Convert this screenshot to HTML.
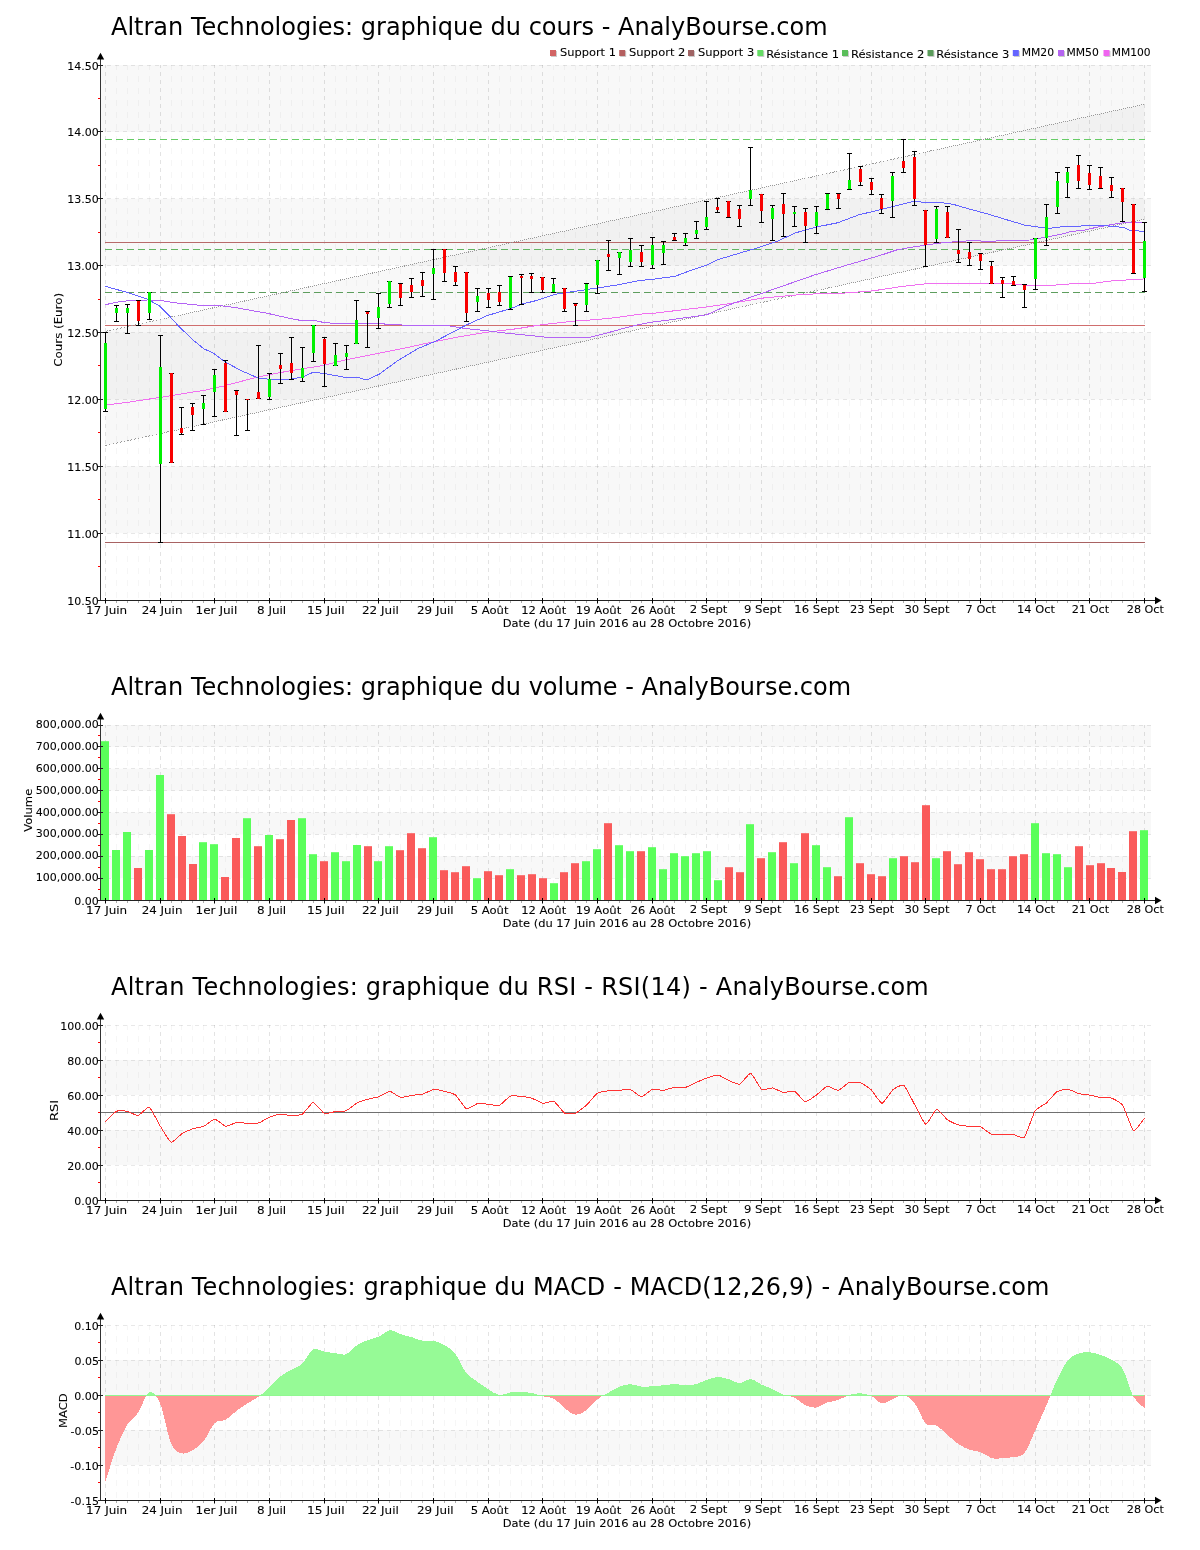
<!DOCTYPE html><html><head><meta charset="utf-8"><style>html,body{margin:0;padding:0;background:#fff;width:1200px;height:1550px;overflow:hidden}svg{display:block} text{filter:grayscale(1)}.s{font-family:"DejaVu Sans","Liberation Sans",sans-serif;font-size:11px;fill:#000;stroke:#000;stroke-width:0.08px}.t{font-family:"DejaVu Sans","Liberation Sans",sans-serif;font-size:24px;fill:#000}.l{font-family:"DejaVu Sans","Liberation Sans",sans-serif;font-size:10px;fill:#000}</style></head><body>
<svg width="1200" height="1550" viewBox="0 0 1200 1550">
<rect width="1200" height="1550" fill="#fff"/>
<rect x="101" y="65" width="1050" height="66.88" fill="#f8f8f8"/>
<rect x="101" y="198.75" width="1050" height="66.88" fill="#f8f8f8"/>
<rect x="101" y="332.5" width="1050" height="66.88" fill="#f8f8f8"/>
<rect x="101" y="466.25" width="1050" height="66.88" fill="#f8f8f8"/>
<polygon points="105.5,331.4 1144.5,104.2 1144.5,219.1 105.5,445.5" fill="#000" fill-opacity="0.028"/>
<path d="M116.5 65V600M127.5 65V600M138.5 65V600M149.5 65V600M171.5 65V600M181.5 65V600M192.5 65V600M203.5 65V600M225.5 65V600M236.5 65V600M247.5 65V600M258.5 65V600M280.5 65V600M291.5 65V600M302.5 65V600M313.5 65V600M335.5 65V600M346.5 65V600M356.5 65V600M367.5 65V600M389.5 65V600M400.5 65V600M411.5 65V600M422.5 65V600M444.5 65V600M455.5 65V600M466.5 65V600M477.5 65V600M499.5 65V600M510.5 65V600M521.5 65V600M531.5 65V600M553.5 65V600M564.5 65V600M575.5 65V600M586.5 65V600M608.5 65V600M619.5 65V600M630.5 65V600M641.5 65V600M663.5 65V600M674.5 65V600M685.5 65V600M696.5 65V600M717.5 65V600M728.5 65V600M739.5 65V600M750.5 65V600M772.5 65V600M783.5 65V600M794.5 65V600M805.5 65V600M827.5 65V600M838.5 65V600M849.5 65V600M860.5 65V600M881.5 65V600M892.5 65V600M903.5 65V600M914.5 65V600M936.5 65V600M947.5 65V600M958.5 65V600M969.5 65V600M991.5 65V600M1002.5 65V600M1013.5 65V600M1024.5 65V600M1046.5 65V600M1057.5 65V600M1067.5 65V600M1078.5 65V600M1100.5 65V600M1111.5 65V600M1122.5 65V600M1133.5 65V600" stroke="#000" stroke-opacity="0.035" stroke-width="1" stroke-dasharray="6,6" stroke-dashoffset="1" fill="none"/>
<path d="M105.5 65V600M160.5 65V600M214.5 65V600M269.5 65V600M324.5 65V600M378.5 65V600M433.5 65V600M488.5 65V600M542.5 65V600M597.5 65V600M652.5 65V600M706.5 65V600M761.5 65V600M816.5 65V600M871.5 65V600M925.5 65V600M980.5 65V600M1035.5 65V600M1089.5 65V600M1144.5 65V600" stroke="#000" stroke-opacity="0.11" stroke-width="1" stroke-dasharray="4,4" stroke-dashoffset="1" fill="none"/>
<path d="M101 65.5H1151M101 131.5H1151M101 198.5H1151M101 265.5H1151M101 332.5H1151M101 399.5H1151M101 466.5H1151M101 533.5H1151M101 600.5H1151" stroke="#000" stroke-opacity="0.09" stroke-width="1" stroke-dasharray="4,4" stroke-dashoffset="2" fill="none"/>
<path d="M105 139.5H1145" stroke="#6c6" stroke-width="1" stroke-dasharray="7,4" fill="none"/>
<path d="M105 249.5H1145" stroke="#62b462" stroke-width="1" stroke-dasharray="7,4" fill="none"/>
<path d="M105 292.5H1145" stroke="#5e9e5e" stroke-width="1" stroke-dasharray="7,4" fill="none"/>
<path d="M105 242.5H1145" stroke="#b86a6a" stroke-width="1" fill="none"/>
<path d="M105 325.5H1145" stroke="#d06e6e" stroke-width="1" fill="none"/>
<path d="M105 542.5H1145" stroke="#a86262" stroke-width="1" fill="none"/>
<path d="M105.5 331.4L1144.5 104.2" stroke="#9a9a9a" stroke-width="1" stroke-dasharray="1,1.05" fill="none" shape-rendering="crispEdges"/>
<path d="M105.5 445.5L1144.5 219.1" stroke="#9a9a9a" stroke-width="1" stroke-dasharray="1,1.05" fill="none" shape-rendering="crispEdges"/>
<polyline points="105.5,405.1 129.8,402 164.7,396.7 185.6,393.2 205,390.2 223.6,386 256.6,377.3 277.3,373.1 298,369.5 323.8,365.4 346,359.8 377,353.6 408,347.4 425,343.6 456,337.4 487,332.2 518,328.6 536.5,325.5 555.7,323.1 576.3,321 597,319.5 617.6,317.4 638.3,314.3 655,313.1 707,306.9 727.5,303.9 762.5,298.1 803.3,294.3 844,293.1 873.2,290.8 902.4,286.4 925.7,283.8 975,283.1 1007.9,283.7 1029.8,285.3 1051.8,285.3 1073.7,283.7 1094.1,283.2 1112.6,280.8 1144.5,278.9" stroke="#f070f0" stroke-width="1" fill="none" shape-rendering="crispEdges"/>
<polyline points="105.5,304.7 115.9,302.3 126.4,300.9 147.3,300 161.2,300.6 173.4,302.6 199.5,305.3 218.4,305.5 236,307.6 246.3,309.6 267,313.2 287.6,317.9 301,320.5 314.5,320.5 324.3,322.6 340.8,323.7 383.2,323.7 387.3,324.7 425,325.5 449.8,326 466.3,328.6 487,330.7 507.6,333.3 528.3,335.3 548.4,337.5 588.7,337.5 607.3,332.9 628,327.2 643.4,323.6 655,321.7 669.2,320 707,314.7 727.5,305.4 762.5,293.1 815,274.8 844,266 879,255.8 896.6,250 906.3,248.1 924.9,245.2 937.3,243.4 952.8,241.9 975,240.4 986,241.5 1007.9,240.4 1029.8,240 1046.3,237.1 1062.7,233.8 1070,231.8 1084.7,230 1098.4,226.9 1119.6,223.3 1129.6,222.2 1144.5,222.2" stroke="#b464f5" stroke-width="1" fill="none" shape-rendering="crispEdges"/>
<polyline points="105.5,286.4 126.4,292.2 147.3,299.2 159.5,305.8 170,316.6 178.6,326.2 194.3,341 203.9,348.8 213.3,353 225.7,362.3 241.1,370.6 257.7,377.8 269,379.3 285.6,379.8 302.1,377.3 313.4,372.1 325.3,373.7 345,377.4 359.4,377.9 366.6,380 379,374.3 397.6,360.8 418.3,348.4 435,341.5 466.3,325 487,315.7 510.7,308.5 523.1,303.8 535,300.9 555.7,294.2 576.3,291.1 597,288 617.6,284.9 638.3,280.7 655,279 675,276.3 691.5,270.1 707,265 717.3,259.8 738,253.6 755,248.6 775.7,241.9 796.3,232.6 817,226.9 837.6,222.8 858.3,215 880.5,209.6 896,205.7 914.6,201.1 921.8,202.1 941.4,202.6 952.8,204.2 968.3,208.8 986,213.5 1007.9,220.1 1024.4,225 1035.3,226.7 1049.6,228.3 1062.7,226.7 1095.5,225.5 1112.6,226.2 1123.9,227.6 1129.6,230.4 1144.5,231.4" stroke="#6464ff" stroke-width="1" fill="none" shape-rendering="crispEdges"/>
<path d="M105.5 332V412M103 332.5H108M103 411.5H108" stroke="#000" stroke-width="1" fill="none"/>
<rect x="104" y="343" width="3" height="66" fill="#00f000"/>
<path d="M116.5 305V322M114 305.5H119M114 321.5H119" stroke="#000" stroke-width="1" fill="none"/>
<rect x="115" y="308" width="3" height="5" fill="#00f000"/>
<path d="M127.5 304V334M125 304.5H130M125 333.5H130" stroke="#000" stroke-width="1" fill="none"/>
<rect x="126" y="308" width="3" height="5" fill="#00f000"/>
<path d="M138.5 300V326M136 300.5H141M136 325.5H141" stroke="#000" stroke-width="1" fill="none"/>
<rect x="137" y="301" width="3" height="20" fill="#f80000"/>
<path d="M149.5 292V320M147 292.5H152M147 319.5H152" stroke="#000" stroke-width="1" fill="none"/>
<rect x="148" y="292" width="3" height="21" fill="#00f000"/>
<path d="M160.5 335V543M158 335.5H163M158 542.5H163" stroke="#000" stroke-width="1" fill="none"/>
<rect x="159" y="367" width="3" height="97" fill="#00f000"/>
<path d="M171.5 373V463M169 373.5H174M169 462.5H174" stroke="#000" stroke-width="1" fill="none"/>
<rect x="170" y="373" width="3" height="90" fill="#f80000"/>
<path d="M181.5 407V435M179 407.5H184M179 434.5H184" stroke="#000" stroke-width="1" fill="none"/>
<rect x="180" y="428" width="3" height="5" fill="#f80000"/>
<path d="M192.5 403V431M190 403.5H195M190 430.5H195" stroke="#000" stroke-width="1" fill="none"/>
<rect x="191" y="407" width="3" height="8" fill="#f80000"/>
<path d="M203.5 395V425M201 395.5H206M201 424.5H206" stroke="#000" stroke-width="1" fill="none"/>
<rect x="202" y="403" width="3" height="6" fill="#00f000"/>
<path d="M214.5 369V417M212 369.5H217M212 416.5H217" stroke="#000" stroke-width="1" fill="none"/>
<rect x="213" y="375" width="3" height="17" fill="#00f000"/>
<path d="M225.5 360V412M223 360.5H228M223 411.5H228" stroke="#000" stroke-width="1" fill="none"/>
<rect x="224" y="363" width="3" height="49" fill="#f80000"/>
<path d="M236.5 390V436M234 390.5H239M234 435.5H239" stroke="#000" stroke-width="1" fill="none"/>
<rect x="235" y="391" width="3" height="4" fill="#f80000"/>
<path d="M247.5 399V431M245 399.5H250M245 430.5H250" stroke="#000" stroke-width="1" fill="none"/>
<rect x="246" y="399" width="3" height="1" fill="#f80000"/>
<path d="M258.5 345V399M256 345.5H261M256 398.5H261" stroke="#000" stroke-width="1" fill="none"/>
<rect x="257" y="392" width="3" height="7" fill="#f80000"/>
<path d="M269.5 373V400M267 373.5H272M267 399.5H272" stroke="#000" stroke-width="1" fill="none"/>
<rect x="268" y="379" width="3" height="18" fill="#00f000"/>
<path d="M280.5 353V384M278 353.5H283M278 383.5H283" stroke="#000" stroke-width="1" fill="none"/>
<rect x="279" y="365" width="3" height="4" fill="#f80000"/>
<path d="M291.5 337V380M289 337.5H294M289 379.5H294" stroke="#000" stroke-width="1" fill="none"/>
<rect x="290" y="363" width="3" height="10" fill="#f80000"/>
<path d="M302.5 347V382M300 347.5H305M300 381.5H305" stroke="#000" stroke-width="1" fill="none"/>
<rect x="301" y="368" width="3" height="10" fill="#00f000"/>
<path d="M313.5 325V362M311 325.5H316M311 361.5H316" stroke="#000" stroke-width="1" fill="none"/>
<rect x="312" y="325" width="3" height="28" fill="#00f000"/>
<path d="M324.5 337V387M322 337.5H327M322 386.5H327" stroke="#000" stroke-width="1" fill="none"/>
<rect x="323" y="339" width="3" height="25" fill="#f80000"/>
<path d="M335.5 343V366M333 343.5H338M333 365.5H338" stroke="#000" stroke-width="1" fill="none"/>
<rect x="334" y="355" width="3" height="11" fill="#00f000"/>
<path d="M346.5 345V370M344 345.5H349M344 369.5H349" stroke="#000" stroke-width="1" fill="none"/>
<rect x="345" y="353" width="3" height="4" fill="#00f000"/>
<path d="M356.5 300V344M354 300.5H359M354 343.5H359" stroke="#000" stroke-width="1" fill="none"/>
<rect x="355" y="320" width="3" height="24" fill="#00f000"/>
<path d="M367.5 311V348M365 311.5H370M365 347.5H370" stroke="#000" stroke-width="1" fill="none"/>
<rect x="366" y="312" width="3" height="2" fill="#f80000"/>
<path d="M378.5 293V329M376 293.5H381M376 328.5H381" stroke="#000" stroke-width="1" fill="none"/>
<rect x="377" y="307" width="3" height="11" fill="#00f000"/>
<path d="M389.5 281V308M387 281.5H392M387 307.5H392" stroke="#000" stroke-width="1" fill="none"/>
<rect x="388" y="281" width="3" height="23" fill="#00f000"/>
<path d="M400.5 283V306M398 283.5H403M398 305.5H403" stroke="#000" stroke-width="1" fill="none"/>
<rect x="399" y="284" width="3" height="14" fill="#f80000"/>
<path d="M411.5 278V298M409 278.5H414M409 297.5H414" stroke="#000" stroke-width="1" fill="none"/>
<rect x="410" y="285" width="3" height="7" fill="#f80000"/>
<path d="M422.5 272V297M420 272.5H425M420 296.5H425" stroke="#000" stroke-width="1" fill="none"/>
<rect x="421" y="280" width="3" height="6" fill="#f80000"/>
<path d="M433.5 249V300M431 249.5H436M431 299.5H436" stroke="#000" stroke-width="1" fill="none"/>
<rect x="432" y="268" width="3" height="6" fill="#00f000"/>
<path d="M444.5 249V282M442 249.5H447M442 281.5H447" stroke="#000" stroke-width="1" fill="none"/>
<rect x="443" y="249" width="3" height="24" fill="#f80000"/>
<path d="M455.5 266V286M453 266.5H458M453 285.5H458" stroke="#000" stroke-width="1" fill="none"/>
<rect x="454" y="272" width="3" height="10" fill="#f80000"/>
<path d="M466.5 272V322M464 272.5H469M464 321.5H469" stroke="#000" stroke-width="1" fill="none"/>
<rect x="465" y="272" width="3" height="41" fill="#f80000"/>
<path d="M477.5 288V312M475 288.5H480M475 311.5H480" stroke="#000" stroke-width="1" fill="none"/>
<rect x="476" y="296" width="3" height="6" fill="#00f000"/>
<path d="M488.5 288V308M486 288.5H491M486 307.5H491" stroke="#000" stroke-width="1" fill="none"/>
<rect x="487" y="293" width="3" height="7" fill="#f80000"/>
<path d="M499.5 285V306M497 285.5H502M497 305.5H502" stroke="#000" stroke-width="1" fill="none"/>
<rect x="498" y="292" width="3" height="10" fill="#f80000"/>
<path d="M510.5 276V310M508 276.5H513M508 309.5H513" stroke="#000" stroke-width="1" fill="none"/>
<rect x="509" y="277" width="3" height="31" fill="#00f000"/>
<path d="M521.5 274V305M519 274.5H524M519 304.5H524" stroke="#000" stroke-width="1" fill="none"/>
<rect x="520" y="276" width="3" height="2" fill="#f80000"/>
<path d="M531.5 273V293M529 273.5H534M529 292.5H534" stroke="#000" stroke-width="1" fill="none"/>
<rect x="530" y="276" width="3" height="3" fill="#f80000"/>
<path d="M542.5 277V293M540 277.5H545M540 292.5H545" stroke="#000" stroke-width="1" fill="none"/>
<rect x="541" y="277" width="3" height="13" fill="#f80000"/>
<path d="M553.5 278V293M551 278.5H556M551 292.5H556" stroke="#000" stroke-width="1" fill="none"/>
<rect x="552" y="284" width="3" height="8" fill="#00f000"/>
<path d="M564.5 288V312M562 288.5H567M562 311.5H567" stroke="#000" stroke-width="1" fill="none"/>
<rect x="563" y="288" width="3" height="21" fill="#f80000"/>
<path d="M575.5 303V326M573 303.5H578M573 325.5H578" stroke="#000" stroke-width="1" fill="none"/>
<rect x="574" y="304" width="3" height="2" fill="#f80000"/>
<path d="M586.5 283V312M584 283.5H589M584 311.5H589" stroke="#000" stroke-width="1" fill="none"/>
<rect x="585" y="284" width="3" height="21" fill="#00f000"/>
<path d="M597.5 260V294M595 260.5H600M595 293.5H600" stroke="#000" stroke-width="1" fill="none"/>
<rect x="596" y="260" width="3" height="25" fill="#00f000"/>
<path d="M608.5 240V271M606 240.5H611M606 270.5H611" stroke="#000" stroke-width="1" fill="none"/>
<rect x="607" y="254" width="3" height="3" fill="#f80000"/>
<path d="M619.5 252V275M617 252.5H622M617 274.5H622" stroke="#000" stroke-width="1" fill="none"/>
<rect x="618" y="252" width="3" height="6" fill="#00f000"/>
<path d="M630.5 238V267M628 238.5H633M628 266.5H633" stroke="#000" stroke-width="1" fill="none"/>
<rect x="629" y="250" width="3" height="12" fill="#00f000"/>
<path d="M641.5 245V267M639 245.5H644M639 266.5H644" stroke="#000" stroke-width="1" fill="none"/>
<rect x="640" y="252" width="3" height="10" fill="#f80000"/>
<path d="M652.5 237V269M650 237.5H655M650 268.5H655" stroke="#000" stroke-width="1" fill="none"/>
<rect x="651" y="245" width="3" height="20" fill="#00f000"/>
<path d="M663.5 241V265M661 241.5H666M661 264.5H666" stroke="#000" stroke-width="1" fill="none"/>
<rect x="662" y="245" width="3" height="8" fill="#00f000"/>
<path d="M674.5 233V241M672 233.5H677M672 240.5H677" stroke="#000" stroke-width="1" fill="none"/>
<rect x="673" y="237" width="3" height="3" fill="#f80000"/>
<path d="M685.5 233V246M683 233.5H688M683 245.5H688" stroke="#000" stroke-width="1" fill="none"/>
<rect x="684" y="238" width="3" height="5" fill="#00f000"/>
<path d="M696.5 221V239M694 221.5H699M694 238.5H699" stroke="#000" stroke-width="1" fill="none"/>
<rect x="695" y="230" width="3" height="4" fill="#00f000"/>
<path d="M706.5 201V230M704 201.5H709M704 229.5H709" stroke="#000" stroke-width="1" fill="none"/>
<rect x="705" y="217" width="3" height="10" fill="#00f000"/>
<path d="M717.5 198V213M715 198.5H720M715 212.5H720" stroke="#000" stroke-width="1" fill="none"/>
<rect x="716" y="207" width="3" height="3" fill="#f80000"/>
<path d="M728.5 201V218M726 201.5H731M726 217.5H731" stroke="#000" stroke-width="1" fill="none"/>
<rect x="727" y="201" width="3" height="16" fill="#f80000"/>
<path d="M739.5 205V227M737 205.5H742M737 226.5H742" stroke="#000" stroke-width="1" fill="none"/>
<rect x="738" y="209" width="3" height="10" fill="#f80000"/>
<path d="M750.5 147V206M748 147.5H753M748 205.5H753" stroke="#000" stroke-width="1" fill="none"/>
<rect x="749" y="190" width="3" height="9" fill="#00f000"/>
<path d="M761.5 194V223M759 194.5H764M759 222.5H764" stroke="#000" stroke-width="1" fill="none"/>
<rect x="760" y="194" width="3" height="17" fill="#f80000"/>
<path d="M772.5 205V241M770 205.5H775M770 240.5H775" stroke="#000" stroke-width="1" fill="none"/>
<rect x="771" y="208" width="3" height="11" fill="#00f000"/>
<path d="M783.5 193V237M781 193.5H786M781 236.5H786" stroke="#000" stroke-width="1" fill="none"/>
<rect x="782" y="204" width="3" height="10" fill="#f80000"/>
<path d="M794.5 206V227M792 206.5H797M792 226.5H797" stroke="#000" stroke-width="1" fill="none"/>
<rect x="793" y="212" width="3" height="2" fill="#00f000"/>
<path d="M805.5 208V243M803 208.5H808M803 242.5H808" stroke="#000" stroke-width="1" fill="none"/>
<rect x="804" y="212" width="3" height="14" fill="#f80000"/>
<path d="M816.5 206V234M814 206.5H819M814 233.5H819" stroke="#000" stroke-width="1" fill="none"/>
<rect x="815" y="212" width="3" height="14" fill="#00f000"/>
<path d="M827.5 193V210M825 193.5H830M825 209.5H830" stroke="#000" stroke-width="1" fill="none"/>
<rect x="826" y="194" width="3" height="15" fill="#00f000"/>
<path d="M838.5 193V209M836 193.5H841M836 208.5H841" stroke="#000" stroke-width="1" fill="none"/>
<rect x="837" y="194" width="3" height="5" fill="#f80000"/>
<path d="M849.5 153V190M847 153.5H852M847 189.5H852" stroke="#000" stroke-width="1" fill="none"/>
<rect x="848" y="180" width="3" height="9" fill="#00f000"/>
<path d="M860.5 166V186M858 166.5H863M858 185.5H863" stroke="#000" stroke-width="1" fill="none"/>
<rect x="859" y="169" width="3" height="13" fill="#f80000"/>
<path d="M871.5 178V195M869 178.5H874M869 194.5H874" stroke="#000" stroke-width="1" fill="none"/>
<rect x="870" y="182" width="3" height="8" fill="#f80000"/>
<path d="M881.5 194V214M879 194.5H884M879 213.5H884" stroke="#000" stroke-width="1" fill="none"/>
<rect x="880" y="198" width="3" height="11" fill="#f80000"/>
<path d="M892.5 172V218M890 172.5H895M890 217.5H895" stroke="#000" stroke-width="1" fill="none"/>
<rect x="891" y="176" width="3" height="25" fill="#00f000"/>
<path d="M903.5 139V173M901 139.5H906M901 172.5H906" stroke="#000" stroke-width="1" fill="none"/>
<rect x="902" y="161" width="3" height="7" fill="#f80000"/>
<path d="M914.5 151V206M912 151.5H917M912 205.5H917" stroke="#000" stroke-width="1" fill="none"/>
<rect x="913" y="157" width="3" height="42" fill="#f80000"/>
<path d="M925.5 210V267M923 210.5H928M923 266.5H928" stroke="#000" stroke-width="1" fill="none"/>
<rect x="924" y="210" width="3" height="35" fill="#f80000"/>
<path d="M936.5 206V243M934 206.5H939M934 242.5H939" stroke="#000" stroke-width="1" fill="none"/>
<rect x="935" y="209" width="3" height="30" fill="#00f000"/>
<path d="M947.5 206V238M945 206.5H950M945 237.5H950" stroke="#000" stroke-width="1" fill="none"/>
<rect x="946" y="212" width="3" height="26" fill="#f80000"/>
<path d="M958.5 229V263M956 229.5H961M956 262.5H961" stroke="#000" stroke-width="1" fill="none"/>
<rect x="957" y="250" width="3" height="4" fill="#f80000"/>
<path d="M969.5 242V266M967 242.5H972M967 265.5H972" stroke="#000" stroke-width="1" fill="none"/>
<rect x="968" y="252" width="3" height="7" fill="#f80000"/>
<path d="M980.5 253V270M978 253.5H983M978 269.5H983" stroke="#000" stroke-width="1" fill="none"/>
<rect x="979" y="254" width="3" height="7" fill="#f80000"/>
<path d="M991.5 261V284M989 261.5H994M989 283.5H994" stroke="#000" stroke-width="1" fill="none"/>
<rect x="990" y="266" width="3" height="18" fill="#f80000"/>
<path d="M1002.5 277V298M1000 277.5H1005M1000 297.5H1005" stroke="#000" stroke-width="1" fill="none"/>
<rect x="1001" y="280" width="3" height="4" fill="#f80000"/>
<path d="M1013.5 276V286M1011 276.5H1016M1011 285.5H1016" stroke="#000" stroke-width="1" fill="none"/>
<rect x="1012" y="281" width="3" height="4" fill="#f80000"/>
<path d="M1024.5 284V308M1022 284.5H1027M1022 307.5H1027" stroke="#000" stroke-width="1" fill="none"/>
<rect x="1023" y="285" width="3" height="5" fill="#f80000"/>
<path d="M1035.5 238V290M1033 238.5H1038M1033 289.5H1038" stroke="#000" stroke-width="1" fill="none"/>
<rect x="1034" y="238" width="3" height="41" fill="#00f000"/>
<path d="M1046.5 204V246M1044 204.5H1049M1044 245.5H1049" stroke="#000" stroke-width="1" fill="none"/>
<rect x="1045" y="217" width="3" height="21" fill="#00f000"/>
<path d="M1057.5 172V214M1055 172.5H1060M1055 213.5H1060" stroke="#000" stroke-width="1" fill="none"/>
<rect x="1056" y="181" width="3" height="26" fill="#00f000"/>
<path d="M1067.5 167V198M1065 167.5H1070M1065 197.5H1070" stroke="#000" stroke-width="1" fill="none"/>
<rect x="1066" y="172" width="3" height="11" fill="#00f000"/>
<path d="M1078.5 155V189M1076 155.5H1081M1076 188.5H1081" stroke="#000" stroke-width="1" fill="none"/>
<rect x="1077" y="165" width="3" height="16" fill="#f80000"/>
<path d="M1089.5 165V190M1087 165.5H1092M1087 189.5H1092" stroke="#000" stroke-width="1" fill="none"/>
<rect x="1088" y="173" width="3" height="12" fill="#f80000"/>
<path d="M1100.5 167V189M1098 167.5H1103M1098 188.5H1103" stroke="#000" stroke-width="1" fill="none"/>
<rect x="1099" y="176" width="3" height="12" fill="#f80000"/>
<path d="M1111.5 177V198M1109 177.5H1114M1109 197.5H1114" stroke="#000" stroke-width="1" fill="none"/>
<rect x="1110" y="185" width="3" height="6" fill="#f80000"/>
<path d="M1122.5 188V222M1120 188.5H1125M1120 221.5H1125" stroke="#000" stroke-width="1" fill="none"/>
<rect x="1121" y="188" width="3" height="14" fill="#f80000"/>
<path d="M1133.5 204V274M1131 204.5H1136M1131 273.5H1136" stroke="#000" stroke-width="1" fill="none"/>
<rect x="1132" y="204" width="3" height="69" fill="#f80000"/>
<path d="M1144.5 222V292M1142 222.5H1147M1142 291.5H1147" stroke="#000" stroke-width="1" fill="none"/>
<rect x="1143" y="241" width="3" height="37" fill="#00f000"/>
<path d="M100.5 58V600.5" stroke="#333" stroke-width="1" fill="none"/>
<polygon points="96.8,59.4 104.2,59.4 100.5,52.8" fill="#000"/>
<path d="M100 600.5H1157" stroke="#222" stroke-width="1" fill="none"/>
<polygon points="1155,596.7 1155,604.3 1161.5,600.5" fill="#000"/>
<path d="M98 65.5H103M98 131.5H103M98 198.5H103M98 265.5H103M98 332.5H103M98 399.5H103M98 466.5H103M98 533.5H103M98 600.5H103" stroke="#222" stroke-width="1"/>
<path d="M98 98.5H100M98 165.5H100M98 232.5H100M98 299.5H100M98 365.5H100M98 432.5H100M98 499.5H100M98 566.5H100" stroke="#f00" stroke-width="1"/>
<path d="M105.5 598V603.5M160.5 598V603.5M214.5 598V603.5M269.5 598V603.5M324.5 598V603.5M378.5 598V603.5M433.5 598V603.5M488.5 598V603.5M542.5 598V603.5M597.5 598V603.5M652.5 598V603.5M706.5 598V603.5M761.5 598V603.5M816.5 598V603.5M871.5 598V603.5M925.5 598V603.5M980.5 598V603.5M1035.5 598V603.5M1089.5 598V603.5M1144.5 598V603.5" stroke="#000" stroke-width="1"/>
<path d="M116.5 601V603M127.5 601V603M138.5 601V603M149.5 601V603M171.5 601V603M181.5 601V603M192.5 601V603M203.5 601V603M225.5 601V603M236.5 601V603M247.5 601V603M258.5 601V603M280.5 601V603M291.5 601V603M302.5 601V603M313.5 601V603M335.5 601V603M346.5 601V603M356.5 601V603M367.5 601V603M389.5 601V603M400.5 601V603M411.5 601V603M422.5 601V603M444.5 601V603M455.5 601V603M466.5 601V603M477.5 601V603M499.5 601V603M510.5 601V603M521.5 601V603M531.5 601V603M553.5 601V603M564.5 601V603M575.5 601V603M586.5 601V603M608.5 601V603M619.5 601V603M630.5 601V603M641.5 601V603M663.5 601V603M674.5 601V603M685.5 601V603M696.5 601V603M717.5 601V603M728.5 601V603M739.5 601V603M750.5 601V603M772.5 601V603M783.5 601V603M794.5 601V603M805.5 601V603M827.5 601V603M838.5 601V603M849.5 601V603M860.5 601V603M881.5 601V603M892.5 601V603M903.5 601V603M914.5 601V603M936.5 601V603M947.5 601V603M958.5 601V603M969.5 601V603M991.5 601V603M1002.5 601V603M1013.5 601V603M1024.5 601V603M1046.5 601V603M1057.5 601V603M1067.5 601V603M1078.5 601V603M1100.5 601V603M1111.5 601V603M1122.5 601V603M1133.5 601V603" stroke="#aaa" stroke-width="1"/>
<text x="67.25" y="70" class="s">14.50</text>
<text x="67.25" y="136" class="s">14.00</text>
<text x="67.25" y="203" class="s">13.50</text>
<text x="67.25" y="270" class="s">13.00</text>
<text x="67.25" y="337" class="s">12.50</text>
<text x="67.25" y="404" class="s">12.00</text>
<text x="67.25" y="471" class="s">11.50</text>
<text x="67.25" y="538" class="s">11.00</text>
<text x="67.25" y="605" class="s">10.50</text>
<text x="86.1" y="614" class="s" textLength="41.14" lengthAdjust="spacingAndGlyphs">17 Juin</text>
<text x="141.7" y="614" class="s" textLength="40.74" lengthAdjust="spacingAndGlyphs">24 Juin</text>
<text x="195.5" y="614" class="s" textLength="41.81" lengthAdjust="spacingAndGlyphs">1er Juil</text>
<text x="256.95" y="614" class="s" textLength="29.27" lengthAdjust="spacingAndGlyphs">8 Juil</text>
<text x="307.1" y="614" class="s" textLength="37.42" lengthAdjust="spacingAndGlyphs">15 Juil</text>
<text x="362" y="614" class="s" textLength="36.82" lengthAdjust="spacingAndGlyphs">22 Juil</text>
<text x="417" y="614" class="s" textLength="36.62" lengthAdjust="spacingAndGlyphs">29 Juil</text>
<text x="470.65" y="614" class="s" textLength="37.79" lengthAdjust="spacingAndGlyphs">5 Août</text>
<text x="521.2" y="614" class="s" textLength="45.04" lengthAdjust="spacingAndGlyphs">12 Août</text>
<text x="575.8" y="614" class="s" textLength="45.44" lengthAdjust="spacingAndGlyphs">19 Août</text>
<text x="630.8" y="614" class="s" textLength="44.54" lengthAdjust="spacingAndGlyphs">26 Août</text>
<text x="689.7" y="613" class="s" textLength="37.74" lengthAdjust="spacingAndGlyphs">2 Sept</text>
<text x="743.9" y="613" class="s" textLength="37.64" lengthAdjust="spacingAndGlyphs">9 Sept</text>
<text x="794.3" y="613" class="s" textLength="44.94" lengthAdjust="spacingAndGlyphs">16 Sept</text>
<text x="850.1" y="613" class="s" textLength="44.14" lengthAdjust="spacingAndGlyphs">23 Sept</text>
<text x="904.45" y="613" class="s" textLength="45.09" lengthAdjust="spacingAndGlyphs">30 Sept</text>
<text x="965.6" y="613" class="s" textLength="30.46" lengthAdjust="spacingAndGlyphs">7 Oct</text>
<text x="1017.1" y="613" class="s" textLength="37.86" lengthAdjust="spacingAndGlyphs">14 Oct</text>
<text x="1071.8" y="613" class="s" textLength="37.26" lengthAdjust="spacingAndGlyphs">21 Oct</text>
<text x="1126.8" y="613" class="s" textLength="37.06" lengthAdjust="spacingAndGlyphs">28 Oct</text>
<text x="502.65" y="626.8" class="s" textLength="248.47" lengthAdjust="spacingAndGlyphs">Date (du 17 Juin 2016 au 28 Octobre 2016)</text>
<text x="111" y="35.3" class="t">Altran Technologies: graphique du cours - AnalyBourse.com</text>
<text transform="translate(62.1,366.7) rotate(-90)" class="s" textLength="73.75" lengthAdjust="spacingAndGlyphs">Cours (Euro)</text>
<rect x="101" y="725" width="1050" height="21.88" fill="#f8f8f8"/>
<rect x="101" y="768.75" width="1050" height="21.88" fill="#f8f8f8"/>
<rect x="101" y="812.5" width="1050" height="21.88" fill="#f8f8f8"/>
<rect x="101" y="856.25" width="1050" height="21.88" fill="#f8f8f8"/>
<path d="M116.5 725V900M127.5 725V900M138.5 725V900M149.5 725V900M171.5 725V900M181.5 725V900M192.5 725V900M203.5 725V900M225.5 725V900M236.5 725V900M247.5 725V900M258.5 725V900M280.5 725V900M291.5 725V900M302.5 725V900M313.5 725V900M335.5 725V900M346.5 725V900M356.5 725V900M367.5 725V900M389.5 725V900M400.5 725V900M411.5 725V900M422.5 725V900M444.5 725V900M455.5 725V900M466.5 725V900M477.5 725V900M499.5 725V900M510.5 725V900M521.5 725V900M531.5 725V900M553.5 725V900M564.5 725V900M575.5 725V900M586.5 725V900M608.5 725V900M619.5 725V900M630.5 725V900M641.5 725V900M663.5 725V900M674.5 725V900M685.5 725V900M696.5 725V900M717.5 725V900M728.5 725V900M739.5 725V900M750.5 725V900M772.5 725V900M783.5 725V900M794.5 725V900M805.5 725V900M827.5 725V900M838.5 725V900M849.5 725V900M860.5 725V900M881.5 725V900M892.5 725V900M903.5 725V900M914.5 725V900M936.5 725V900M947.5 725V900M958.5 725V900M969.5 725V900M991.5 725V900M1002.5 725V900M1013.5 725V900M1024.5 725V900M1046.5 725V900M1057.5 725V900M1067.5 725V900M1078.5 725V900M1100.5 725V900M1111.5 725V900M1122.5 725V900M1133.5 725V900" stroke="#000" stroke-opacity="0.035" stroke-width="1" stroke-dasharray="6,6" stroke-dashoffset="1" fill="none"/>
<path d="M105.5 725V900M160.5 725V900M214.5 725V900M269.5 725V900M324.5 725V900M378.5 725V900M433.5 725V900M488.5 725V900M542.5 725V900M597.5 725V900M652.5 725V900M706.5 725V900M761.5 725V900M816.5 725V900M871.5 725V900M925.5 725V900M980.5 725V900M1035.5 725V900M1089.5 725V900M1144.5 725V900" stroke="#000" stroke-opacity="0.11" stroke-width="1" stroke-dasharray="4,4" stroke-dashoffset="1" fill="none"/>
<path d="M101 725.5H1151M101 746.5H1151M101 768.5H1151M101 790.5H1151M101 812.5H1151M101 834.5H1151M101 856.5H1151M101 878.5H1151M101 900.5H1151" stroke="#000" stroke-opacity="0.09" stroke-width="1" stroke-dasharray="4,4" stroke-dashoffset="2" fill="none"/>
<rect x="101" y="741.2" width="8" height="158.8" fill="#5aff5a"/>
<rect x="112" y="850" width="8" height="50" fill="#5aff5a"/>
<rect x="123" y="832" width="8" height="68" fill="#5aff5a"/>
<rect x="134" y="868" width="8" height="32" fill="#fa5a5a"/>
<rect x="145" y="850" width="8" height="50" fill="#5aff5a"/>
<rect x="156" y="775" width="8" height="125" fill="#5aff5a"/>
<rect x="167" y="814.2" width="8" height="85.8" fill="#fa5a5a"/>
<rect x="178" y="836" width="8" height="64" fill="#fa5a5a"/>
<rect x="189" y="864" width="8" height="36" fill="#fa5a5a"/>
<rect x="199" y="842.2" width="8" height="57.8" fill="#5aff5a"/>
<rect x="210" y="844.2" width="8" height="55.8" fill="#5aff5a"/>
<rect x="221" y="877" width="8" height="23" fill="#fa5a5a"/>
<rect x="232" y="838" width="8" height="62" fill="#fa5a5a"/>
<rect x="243" y="818.2" width="8" height="81.8" fill="#5aff5a"/>
<rect x="254" y="846.2" width="8" height="53.8" fill="#fa5a5a"/>
<rect x="265" y="835" width="8" height="65" fill="#5aff5a"/>
<rect x="276" y="839.2" width="8" height="60.8" fill="#fa5a5a"/>
<rect x="287" y="820" width="8" height="80" fill="#fa5a5a"/>
<rect x="298" y="818.2" width="8" height="81.8" fill="#5aff5a"/>
<rect x="309" y="854.2" width="8" height="45.8" fill="#5aff5a"/>
<rect x="320" y="861.2" width="8" height="38.8" fill="#fa5a5a"/>
<rect x="331" y="852.2" width="8" height="47.8" fill="#5aff5a"/>
<rect x="342" y="861.2" width="8" height="38.8" fill="#5aff5a"/>
<rect x="353" y="845" width="8" height="55" fill="#5aff5a"/>
<rect x="364" y="846.2" width="8" height="53.8" fill="#fa5a5a"/>
<rect x="374" y="861.2" width="8" height="38.8" fill="#5aff5a"/>
<rect x="385" y="846.2" width="8" height="53.8" fill="#5aff5a"/>
<rect x="396" y="850.2" width="8" height="49.8" fill="#fa5a5a"/>
<rect x="407" y="833.2" width="8" height="66.8" fill="#fa5a5a"/>
<rect x="418" y="848.2" width="8" height="51.8" fill="#fa5a5a"/>
<rect x="429" y="837.2" width="8" height="62.8" fill="#5aff5a"/>
<rect x="440" y="870.2" width="8" height="29.8" fill="#fa5a5a"/>
<rect x="451" y="872.2" width="8" height="27.8" fill="#fa5a5a"/>
<rect x="462" y="866.2" width="8" height="33.8" fill="#fa5a5a"/>
<rect x="473" y="878.2" width="8" height="21.8" fill="#5aff5a"/>
<rect x="484" y="871.2" width="8" height="28.8" fill="#fa5a5a"/>
<rect x="495" y="875.2" width="8" height="24.8" fill="#fa5a5a"/>
<rect x="506" y="869.2" width="8" height="30.8" fill="#5aff5a"/>
<rect x="517" y="875.2" width="8" height="24.8" fill="#fa5a5a"/>
<rect x="528" y="874.2" width="8" height="25.8" fill="#fa5a5a"/>
<rect x="539" y="878.2" width="8" height="21.8" fill="#fa5a5a"/>
<rect x="550" y="883.2" width="8" height="16.8" fill="#5aff5a"/>
<rect x="560" y="872.2" width="8" height="27.8" fill="#fa5a5a"/>
<rect x="571" y="863.2" width="8" height="36.8" fill="#fa5a5a"/>
<rect x="582" y="861.2" width="8" height="38.8" fill="#5aff5a"/>
<rect x="593" y="849.2" width="8" height="50.8" fill="#5aff5a"/>
<rect x="604" y="823.2" width="8" height="76.8" fill="#fa5a5a"/>
<rect x="615" y="845.2" width="8" height="54.8" fill="#5aff5a"/>
<rect x="626" y="851.2" width="8" height="48.8" fill="#5aff5a"/>
<rect x="637" y="851.2" width="8" height="48.8" fill="#fa5a5a"/>
<rect x="648" y="847.2" width="8" height="52.8" fill="#5aff5a"/>
<rect x="659" y="869.2" width="8" height="30.8" fill="#5aff5a"/>
<rect x="670" y="853.2" width="8" height="46.8" fill="#5aff5a"/>
<rect x="681" y="856.2" width="8" height="43.8" fill="#5aff5a"/>
<rect x="692" y="853.2" width="8" height="46.8" fill="#5aff5a"/>
<rect x="703" y="851.2" width="8" height="48.8" fill="#5aff5a"/>
<rect x="714" y="880.2" width="8" height="19.8" fill="#5aff5a"/>
<rect x="725" y="867.2" width="8" height="32.8" fill="#fa5a5a"/>
<rect x="736" y="872.2" width="8" height="27.8" fill="#fa5a5a"/>
<rect x="746" y="824.2" width="8" height="75.8" fill="#5aff5a"/>
<rect x="757" y="858.2" width="8" height="41.8" fill="#fa5a5a"/>
<rect x="768" y="852.2" width="8" height="47.8" fill="#5aff5a"/>
<rect x="779" y="842.2" width="8" height="57.8" fill="#fa5a5a"/>
<rect x="790" y="863.2" width="8" height="36.8" fill="#5aff5a"/>
<rect x="801" y="833.2" width="8" height="66.8" fill="#fa5a5a"/>
<rect x="812" y="845.2" width="8" height="54.8" fill="#5aff5a"/>
<rect x="823" y="867.2" width="8" height="32.8" fill="#5aff5a"/>
<rect x="834" y="876.2" width="8" height="23.8" fill="#fa5a5a"/>
<rect x="845" y="817.2" width="8" height="82.8" fill="#5aff5a"/>
<rect x="856" y="863.2" width="8" height="36.8" fill="#fa5a5a"/>
<rect x="867" y="874.2" width="8" height="25.8" fill="#fa5a5a"/>
<rect x="878" y="876.2" width="8" height="23.8" fill="#fa5a5a"/>
<rect x="889" y="858.2" width="8" height="41.8" fill="#5aff5a"/>
<rect x="900" y="856.2" width="8" height="43.8" fill="#fa5a5a"/>
<rect x="911" y="862.2" width="8" height="37.8" fill="#fa5a5a"/>
<rect x="922" y="805.2" width="8" height="94.8" fill="#fa5a5a"/>
<rect x="932" y="858.2" width="8" height="41.8" fill="#5aff5a"/>
<rect x="943" y="851.2" width="8" height="48.8" fill="#fa5a5a"/>
<rect x="954" y="864.2" width="8" height="35.8" fill="#fa5a5a"/>
<rect x="965" y="852.2" width="8" height="47.8" fill="#fa5a5a"/>
<rect x="976" y="859.2" width="8" height="40.8" fill="#fa5a5a"/>
<rect x="987" y="869.2" width="8" height="30.8" fill="#fa5a5a"/>
<rect x="998" y="869.2" width="8" height="30.8" fill="#fa5a5a"/>
<rect x="1009" y="856.2" width="8" height="43.8" fill="#fa5a5a"/>
<rect x="1020" y="854.2" width="8" height="45.8" fill="#fa5a5a"/>
<rect x="1031" y="823.2" width="8" height="76.8" fill="#5aff5a"/>
<rect x="1042" y="853.2" width="8" height="46.8" fill="#5aff5a"/>
<rect x="1053" y="854.2" width="8" height="45.8" fill="#5aff5a"/>
<rect x="1064" y="867.2" width="8" height="32.8" fill="#5aff5a"/>
<rect x="1075" y="846.2" width="8" height="53.8" fill="#fa5a5a"/>
<rect x="1086" y="865.2" width="8" height="34.8" fill="#fa5a5a"/>
<rect x="1097" y="863.2" width="8" height="36.8" fill="#fa5a5a"/>
<rect x="1107" y="868" width="8" height="32" fill="#fa5a5a"/>
<rect x="1118" y="872" width="8" height="28" fill="#fa5a5a"/>
<rect x="1129" y="831.2" width="8" height="68.8" fill="#fa5a5a"/>
<rect x="1140" y="830.2" width="8" height="69.8" fill="#5aff5a"/>
<path d="M100.5 718V900.5" stroke="#333" stroke-width="1" fill="none"/>
<polygon points="96.8,719.4 104.2,719.4 100.5,712.8" fill="#000"/>
<path d="M100 900.5H1157" stroke="#222" stroke-width="1" fill="none"/>
<polygon points="1155,896.7 1155,904.3 1161.5,900.5" fill="#000"/>
<path d="M98 725.5H103M98 746.5H103M98 768.5H103M98 790.5H103M98 812.5H103M98 834.5H103M98 856.5H103M98 878.5H103M98 900.5H103" stroke="#222" stroke-width="1"/>
<path d="M98 735.5H100M98 757.5H100M98 779.5H100M98 801.5H100M98 823.5H100M98 845.5H100M98 867.5H100M98 889.5H100" stroke="#f00" stroke-width="1"/>
<path d="M105.5 898V903.5M160.5 898V903.5M214.5 898V903.5M269.5 898V903.5M324.5 898V903.5M378.5 898V903.5M433.5 898V903.5M488.5 898V903.5M542.5 898V903.5M597.5 898V903.5M652.5 898V903.5M706.5 898V903.5M761.5 898V903.5M816.5 898V903.5M871.5 898V903.5M925.5 898V903.5M980.5 898V903.5M1035.5 898V903.5M1089.5 898V903.5M1144.5 898V903.5" stroke="#000" stroke-width="1"/>
<path d="M116.5 901V903M127.5 901V903M138.5 901V903M149.5 901V903M171.5 901V903M181.5 901V903M192.5 901V903M203.5 901V903M225.5 901V903M236.5 901V903M247.5 901V903M258.5 901V903M280.5 901V903M291.5 901V903M302.5 901V903M313.5 901V903M335.5 901V903M346.5 901V903M356.5 901V903M367.5 901V903M389.5 901V903M400.5 901V903M411.5 901V903M422.5 901V903M444.5 901V903M455.5 901V903M466.5 901V903M477.5 901V903M499.5 901V903M510.5 901V903M521.5 901V903M531.5 901V903M553.5 901V903M564.5 901V903M575.5 901V903M586.5 901V903M608.5 901V903M619.5 901V903M630.5 901V903M641.5 901V903M663.5 901V903M674.5 901V903M685.5 901V903M696.5 901V903M717.5 901V903M728.5 901V903M739.5 901V903M750.5 901V903M772.5 901V903M783.5 901V903M794.5 901V903M805.5 901V903M827.5 901V903M838.5 901V903M849.5 901V903M860.5 901V903M881.5 901V903M892.5 901V903M903.5 901V903M914.5 901V903M936.5 901V903M947.5 901V903M958.5 901V903M969.5 901V903M991.5 901V903M1002.5 901V903M1013.5 901V903M1024.5 901V903M1046.5 901V903M1057.5 901V903M1067.5 901V903M1078.5 901V903M1100.5 901V903M1111.5 901V903M1122.5 901V903M1133.5 901V903" stroke="#aaa" stroke-width="1"/>
<text x="35.75" y="728" class="s">800,000.00</text>
<text x="35.75" y="750" class="s">700,000.00</text>
<text x="35.75" y="772" class="s">600,000.00</text>
<text x="35.75" y="794" class="s">500,000.00</text>
<text x="35.75" y="816" class="s">400,000.00</text>
<text x="35.75" y="837" class="s">300,000.00</text>
<text x="35.75" y="859" class="s">200,000.00</text>
<text x="35.75" y="881" class="s">100,000.00</text>
<text x="74.25" y="905" class="s">0.00</text>
<text x="86.1" y="914" class="s" textLength="41.14" lengthAdjust="spacingAndGlyphs">17 Juin</text>
<text x="141.7" y="914" class="s" textLength="40.74" lengthAdjust="spacingAndGlyphs">24 Juin</text>
<text x="195.5" y="914" class="s" textLength="41.81" lengthAdjust="spacingAndGlyphs">1er Juil</text>
<text x="256.95" y="914" class="s" textLength="29.27" lengthAdjust="spacingAndGlyphs">8 Juil</text>
<text x="307.1" y="914" class="s" textLength="37.42" lengthAdjust="spacingAndGlyphs">15 Juil</text>
<text x="362" y="914" class="s" textLength="36.82" lengthAdjust="spacingAndGlyphs">22 Juil</text>
<text x="417" y="914" class="s" textLength="36.62" lengthAdjust="spacingAndGlyphs">29 Juil</text>
<text x="470.65" y="914" class="s" textLength="37.79" lengthAdjust="spacingAndGlyphs">5 Août</text>
<text x="521.2" y="914" class="s" textLength="45.04" lengthAdjust="spacingAndGlyphs">12 Août</text>
<text x="575.8" y="914" class="s" textLength="45.44" lengthAdjust="spacingAndGlyphs">19 Août</text>
<text x="630.8" y="914" class="s" textLength="44.54" lengthAdjust="spacingAndGlyphs">26 Août</text>
<text x="689.7" y="913" class="s" textLength="37.74" lengthAdjust="spacingAndGlyphs">2 Sept</text>
<text x="743.9" y="913" class="s" textLength="37.64" lengthAdjust="spacingAndGlyphs">9 Sept</text>
<text x="794.3" y="913" class="s" textLength="44.94" lengthAdjust="spacingAndGlyphs">16 Sept</text>
<text x="850.1" y="913" class="s" textLength="44.14" lengthAdjust="spacingAndGlyphs">23 Sept</text>
<text x="904.45" y="913" class="s" textLength="45.09" lengthAdjust="spacingAndGlyphs">30 Sept</text>
<text x="965.6" y="913" class="s" textLength="30.46" lengthAdjust="spacingAndGlyphs">7 Oct</text>
<text x="1017.1" y="913" class="s" textLength="37.86" lengthAdjust="spacingAndGlyphs">14 Oct</text>
<text x="1071.8" y="913" class="s" textLength="37.26" lengthAdjust="spacingAndGlyphs">21 Oct</text>
<text x="1126.8" y="913" class="s" textLength="37.06" lengthAdjust="spacingAndGlyphs">28 Oct</text>
<text x="502.65" y="926.8" class="s" textLength="248.47" lengthAdjust="spacingAndGlyphs">Date (du 17 Juin 2016 au 28 Octobre 2016)</text>
<text x="111" y="695.3" class="t">Altran Technologies: graphique du volume - AnalyBourse.com</text>
<text transform="translate(31.9,831.8) rotate(-90)" class="s" textLength="43.06" lengthAdjust="spacingAndGlyphs">Volume</text>
<rect x="101" y="1060" width="1050" height="35" fill="#f8f8f8"/>
<rect x="101" y="1130" width="1050" height="35" fill="#f8f8f8"/>
<path d="M116.5 1025V1200M127.5 1025V1200M138.5 1025V1200M149.5 1025V1200M171.5 1025V1200M181.5 1025V1200M192.5 1025V1200M203.5 1025V1200M225.5 1025V1200M236.5 1025V1200M247.5 1025V1200M258.5 1025V1200M280.5 1025V1200M291.5 1025V1200M302.5 1025V1200M313.5 1025V1200M335.5 1025V1200M346.5 1025V1200M356.5 1025V1200M367.5 1025V1200M389.5 1025V1200M400.5 1025V1200M411.5 1025V1200M422.5 1025V1200M444.5 1025V1200M455.5 1025V1200M466.5 1025V1200M477.5 1025V1200M499.5 1025V1200M510.5 1025V1200M521.5 1025V1200M531.5 1025V1200M553.5 1025V1200M564.5 1025V1200M575.5 1025V1200M586.5 1025V1200M608.5 1025V1200M619.5 1025V1200M630.5 1025V1200M641.5 1025V1200M663.5 1025V1200M674.5 1025V1200M685.5 1025V1200M696.5 1025V1200M717.5 1025V1200M728.5 1025V1200M739.5 1025V1200M750.5 1025V1200M772.5 1025V1200M783.5 1025V1200M794.5 1025V1200M805.5 1025V1200M827.5 1025V1200M838.5 1025V1200M849.5 1025V1200M860.5 1025V1200M881.5 1025V1200M892.5 1025V1200M903.5 1025V1200M914.5 1025V1200M936.5 1025V1200M947.5 1025V1200M958.5 1025V1200M969.5 1025V1200M991.5 1025V1200M1002.5 1025V1200M1013.5 1025V1200M1024.5 1025V1200M1046.5 1025V1200M1057.5 1025V1200M1067.5 1025V1200M1078.5 1025V1200M1100.5 1025V1200M1111.5 1025V1200M1122.5 1025V1200M1133.5 1025V1200" stroke="#000" stroke-opacity="0.035" stroke-width="1" stroke-dasharray="6,6" stroke-dashoffset="1" fill="none"/>
<path d="M105.5 1025V1200M160.5 1025V1200M214.5 1025V1200M269.5 1025V1200M324.5 1025V1200M378.5 1025V1200M433.5 1025V1200M488.5 1025V1200M542.5 1025V1200M597.5 1025V1200M652.5 1025V1200M706.5 1025V1200M761.5 1025V1200M816.5 1025V1200M871.5 1025V1200M925.5 1025V1200M980.5 1025V1200M1035.5 1025V1200M1089.5 1025V1200M1144.5 1025V1200" stroke="#000" stroke-opacity="0.11" stroke-width="1" stroke-dasharray="4,4" stroke-dashoffset="1" fill="none"/>
<path d="M101 1025.5H1151M101 1060.5H1151M101 1095.5H1151M101 1130.5H1151M101 1165.5H1151M101 1200.5H1151" stroke="#000" stroke-opacity="0.09" stroke-width="1" stroke-dasharray="4,4" stroke-dashoffset="2" fill="none"/>
<path d="M101 1112.5H1145" stroke="#707070" stroke-width="1" fill="none"/>
<path d="M105.4 1121.7C106.31 1120.83 114.52 1112.17 116.34 1111.3C118.16 1110.43 125.45 1110.95 127.28 1111.3C129.1 1111.65 136.39 1115.84 138.21 1115.5C140.04 1115.16 147.33 1106.34 149.15 1107.2C150.98 1108.06 158.27 1122.88 160.09 1125.8C161.91 1128.72 169.21 1141.54 171.03 1142.2C172.85 1142.86 180.14 1134.82 181.97 1133.7C183.79 1132.58 191.08 1129.42 192.9 1128.8C194.73 1128.17 202.02 1127 203.84 1126.2C205.67 1125.4 212.96 1119.19 214.78 1119.2C216.6 1119.21 223.9 1126.02 225.72 1126.3C227.54 1126.58 234.83 1122.75 236.66 1122.5C238.48 1122.25 245.77 1123.26 247.59 1123.3C249.42 1123.34 256.71 1123.51 258.53 1123C260.36 1122.49 267.65 1117.93 269.47 1117.2C271.29 1116.47 278.59 1114.34 280.41 1114.2C282.23 1114.06 289.52 1115.5 291.35 1115.5C293.17 1115.5 300.46 1115.28 302.28 1114.2C304.11 1113.12 311.4 1102.58 313.22 1102.5C315.04 1102.42 322.34 1112.53 324.16 1113.3C325.98 1114.07 333.28 1111.91 335.1 1111.7C336.92 1111.49 344.21 1111.52 346.04 1110.8C347.86 1110.08 355.15 1103.97 356.97 1103C358.8 1102.03 366.09 1099.73 367.91 1099.2C369.74 1098.67 377.03 1097.36 378.85 1096.7C380.67 1096.04 387.97 1091.23 389.79 1091.3C391.61 1091.37 398.9 1097.17 400.73 1097.5C402.55 1097.83 409.84 1095.58 411.66 1095.3C413.49 1095.02 420.78 1094.68 422.6 1094.2C424.42 1093.72 431.72 1089.74 433.54 1089.5C435.36 1089.26 442.66 1090.84 444.48 1091.3C446.3 1091.76 453.59 1093.55 455.42 1095C457.24 1096.45 464.53 1107.98 466.35 1108.7C468.18 1109.42 475.47 1104.08 477.29 1103.7C479.12 1103.33 486.41 1104.05 488.23 1104.2C490.05 1104.35 497.35 1106.16 499.17 1105.5C500.99 1104.84 508.28 1097.07 510.11 1096.3C511.93 1095.53 519.22 1096.13 521.04 1096.3C522.87 1096.47 530.16 1097.72 531.98 1098.3C533.81 1098.88 541.1 1103.05 542.92 1103.3C544.74 1103.55 552.04 1100.47 553.86 1101.3C555.68 1102.13 562.97 1112.33 564.8 1113.3C566.62 1114.27 573.91 1113.69 575.73 1113C577.56 1112.31 584.85 1106.67 586.67 1105C588.5 1103.33 595.79 1094.18 597.61 1093C599.43 1091.82 606.73 1091.02 608.55 1090.8C610.37 1090.58 617.66 1090.41 619.49 1090.3C621.31 1090.19 628.6 1088.97 630.42 1089.5C632.25 1090.03 639.54 1096.7 641.36 1096.7C643.18 1096.7 650.48 1090.03 652.3 1089.5C654.12 1088.97 661.42 1090.47 663.24 1090.3C665.06 1090.13 672.35 1087.73 674.18 1087.5C676 1087.27 683.29 1087.92 685.11 1087.5C686.94 1087.08 694.23 1083.29 696.05 1082.5C697.88 1081.71 705.17 1078.62 706.99 1078C708.81 1077.38 716.11 1074.79 717.93 1075C719.75 1075.21 727.04 1079.73 728.87 1080.5C730.69 1081.27 737.98 1084.8 739.8 1084.2C741.63 1083.6 748.92 1072.86 750.74 1073.3C752.56 1073.74 759.86 1088.28 761.68 1089.5C763.5 1090.72 770.8 1087.75 772.62 1088C774.44 1088.25 781.73 1092.22 783.56 1092.5C785.38 1092.78 792.67 1090.53 794.49 1091.3C796.32 1092.07 803.61 1101.39 805.43 1101.7C807.25 1102.01 814.55 1096.28 816.37 1095C818.19 1093.72 825.49 1086.69 827.31 1086.3C829.13 1085.91 836.42 1090.62 838.25 1090.3C840.07 1089.98 847.36 1083.15 849.18 1082.5C851.01 1081.85 858.3 1081.9 860.12 1082.5C861.95 1083.1 869.24 1087.97 871.06 1089.7C872.88 1091.43 880.18 1103.3 882 1103.3C883.82 1103.3 891.11 1091.2 892.94 1089.7C894.76 1088.2 902.05 1084.02 903.87 1085.3C905.7 1086.58 912.99 1101.76 914.81 1105C916.63 1108.24 923.93 1123.85 925.75 1124.2C927.57 1124.55 934.87 1109.55 936.69 1109.2C938.51 1108.85 945.8 1118.68 947.63 1120C949.45 1121.32 956.74 1124.47 958.56 1125C960.39 1125.53 967.68 1126.16 969.5 1126.3C971.33 1126.44 978.62 1126.04 980.44 1126.7C982.26 1127.36 989.56 1133.58 991.38 1134.2C993.2 1134.83 1000.49 1134.2 1002.32 1134.2C1004.14 1134.2 1011.43 1133.92 1013.25 1134.2C1015.08 1134.48 1022.37 1139.45 1024.19 1137.5C1026.02 1135.55 1033.31 1113.65 1035.13 1110.8C1036.95 1107.95 1044.24 1104.89 1046.07 1103.3C1047.89 1101.71 1055.18 1092.87 1057.01 1091.7C1058.83 1090.53 1066.12 1089.14 1067.94 1089.3C1069.77 1089.46 1077.06 1093.12 1078.88 1093.6C1080.71 1094.08 1088 1094.77 1089.82 1095.1C1091.64 1095.42 1098.93 1097.24 1100.76 1097.5C1102.58 1097.76 1109.87 1097.55 1111.7 1098.2C1113.52 1098.85 1120.81 1102.58 1122.63 1105.3C1124.46 1108.02 1131.75 1129.73 1133.57 1130.8C1135.4 1131.87 1143.6 1119.16 1144.51 1118.1" stroke="#f33" stroke-width="1" fill="none" shape-rendering="crispEdges"/>
<path d="M100.5 1018V1200.5" stroke="#333" stroke-width="1" fill="none"/>
<polygon points="96.8,1019.4 104.2,1019.4 100.5,1012.8" fill="#000"/>
<path d="M100 1200.5H1157" stroke="#222" stroke-width="1" fill="none"/>
<polygon points="1155,1196.7 1155,1204.3 1161.5,1200.5" fill="#000"/>
<path d="M98 1025.5H103M98 1060.5H103M98 1095.5H103M98 1130.5H103M98 1165.5H103M98 1200.5H103" stroke="#222" stroke-width="1"/>
<path d="M98 1042.5H100M98 1077.5H100M98 1112.5H100M98 1147.5H100M98 1182.5H100" stroke="#f00" stroke-width="1"/>
<path d="M105.5 1198V1203.5M160.5 1198V1203.5M214.5 1198V1203.5M269.5 1198V1203.5M324.5 1198V1203.5M378.5 1198V1203.5M433.5 1198V1203.5M488.5 1198V1203.5M542.5 1198V1203.5M597.5 1198V1203.5M652.5 1198V1203.5M706.5 1198V1203.5M761.5 1198V1203.5M816.5 1198V1203.5M871.5 1198V1203.5M925.5 1198V1203.5M980.5 1198V1203.5M1035.5 1198V1203.5M1089.5 1198V1203.5M1144.5 1198V1203.5" stroke="#000" stroke-width="1"/>
<path d="M116.5 1201V1203M127.5 1201V1203M138.5 1201V1203M149.5 1201V1203M171.5 1201V1203M181.5 1201V1203M192.5 1201V1203M203.5 1201V1203M225.5 1201V1203M236.5 1201V1203M247.5 1201V1203M258.5 1201V1203M280.5 1201V1203M291.5 1201V1203M302.5 1201V1203M313.5 1201V1203M335.5 1201V1203M346.5 1201V1203M356.5 1201V1203M367.5 1201V1203M389.5 1201V1203M400.5 1201V1203M411.5 1201V1203M422.5 1201V1203M444.5 1201V1203M455.5 1201V1203M466.5 1201V1203M477.5 1201V1203M499.5 1201V1203M510.5 1201V1203M521.5 1201V1203M531.5 1201V1203M553.5 1201V1203M564.5 1201V1203M575.5 1201V1203M586.5 1201V1203M608.5 1201V1203M619.5 1201V1203M630.5 1201V1203M641.5 1201V1203M663.5 1201V1203M674.5 1201V1203M685.5 1201V1203M696.5 1201V1203M717.5 1201V1203M728.5 1201V1203M739.5 1201V1203M750.5 1201V1203M772.5 1201V1203M783.5 1201V1203M794.5 1201V1203M805.5 1201V1203M827.5 1201V1203M838.5 1201V1203M849.5 1201V1203M860.5 1201V1203M881.5 1201V1203M892.5 1201V1203M903.5 1201V1203M914.5 1201V1203M936.5 1201V1203M947.5 1201V1203M958.5 1201V1203M969.5 1201V1203M991.5 1201V1203M1002.5 1201V1203M1013.5 1201V1203M1024.5 1201V1203M1046.5 1201V1203M1057.5 1201V1203M1067.5 1201V1203M1078.5 1201V1203M1100.5 1201V1203M1111.5 1201V1203M1122.5 1201V1203M1133.5 1201V1203" stroke="#aaa" stroke-width="1"/>
<text x="60.25" y="1030" class="s">100.00</text>
<text x="67.25" y="1065" class="s">80.00</text>
<text x="67.25" y="1100" class="s">60.00</text>
<text x="67.25" y="1135" class="s">40.00</text>
<text x="67.25" y="1170" class="s">20.00</text>
<text x="74.25" y="1205" class="s">0.00</text>
<text x="86.1" y="1214" class="s" textLength="41.14" lengthAdjust="spacingAndGlyphs">17 Juin</text>
<text x="141.7" y="1214" class="s" textLength="40.74" lengthAdjust="spacingAndGlyphs">24 Juin</text>
<text x="195.5" y="1214" class="s" textLength="41.81" lengthAdjust="spacingAndGlyphs">1er Juil</text>
<text x="256.95" y="1214" class="s" textLength="29.27" lengthAdjust="spacingAndGlyphs">8 Juil</text>
<text x="307.1" y="1214" class="s" textLength="37.42" lengthAdjust="spacingAndGlyphs">15 Juil</text>
<text x="362" y="1214" class="s" textLength="36.82" lengthAdjust="spacingAndGlyphs">22 Juil</text>
<text x="417" y="1214" class="s" textLength="36.62" lengthAdjust="spacingAndGlyphs">29 Juil</text>
<text x="470.65" y="1214" class="s" textLength="37.79" lengthAdjust="spacingAndGlyphs">5 Août</text>
<text x="521.2" y="1214" class="s" textLength="45.04" lengthAdjust="spacingAndGlyphs">12 Août</text>
<text x="575.8" y="1214" class="s" textLength="45.44" lengthAdjust="spacingAndGlyphs">19 Août</text>
<text x="630.8" y="1214" class="s" textLength="44.54" lengthAdjust="spacingAndGlyphs">26 Août</text>
<text x="689.7" y="1213" class="s" textLength="37.74" lengthAdjust="spacingAndGlyphs">2 Sept</text>
<text x="743.9" y="1213" class="s" textLength="37.64" lengthAdjust="spacingAndGlyphs">9 Sept</text>
<text x="794.3" y="1213" class="s" textLength="44.94" lengthAdjust="spacingAndGlyphs">16 Sept</text>
<text x="850.1" y="1213" class="s" textLength="44.14" lengthAdjust="spacingAndGlyphs">23 Sept</text>
<text x="904.45" y="1213" class="s" textLength="45.09" lengthAdjust="spacingAndGlyphs">30 Sept</text>
<text x="965.6" y="1213" class="s" textLength="30.46" lengthAdjust="spacingAndGlyphs">7 Oct</text>
<text x="1017.1" y="1213" class="s" textLength="37.86" lengthAdjust="spacingAndGlyphs">14 Oct</text>
<text x="1071.8" y="1213" class="s" textLength="37.26" lengthAdjust="spacingAndGlyphs">21 Oct</text>
<text x="1126.8" y="1213" class="s" textLength="37.06" lengthAdjust="spacingAndGlyphs">28 Oct</text>
<text x="502.65" y="1226.8" class="s" textLength="248.47" lengthAdjust="spacingAndGlyphs">Date (du 17 Juin 2016 au 28 Octobre 2016)</text>
<text x="111" y="995.3" class="t" textLength="817.7" lengthAdjust="spacing">Altran Technologies: graphique du RSI - RSI(14) - AnalyBourse.com</text>
<text transform="translate(58,1121.05) rotate(-90)" class="s" textLength="21.12" lengthAdjust="spacingAndGlyphs">RSI</text>
<rect x="101" y="1360" width="1050" height="35" fill="#f8f8f8"/>
<rect x="101" y="1430" width="1050" height="35" fill="#f8f8f8"/>
<path d="M116.5 1325V1500M127.5 1325V1500M138.5 1325V1500M149.5 1325V1500M171.5 1325V1500M181.5 1325V1500M192.5 1325V1500M203.5 1325V1500M225.5 1325V1500M236.5 1325V1500M247.5 1325V1500M258.5 1325V1500M280.5 1325V1500M291.5 1325V1500M302.5 1325V1500M313.5 1325V1500M335.5 1325V1500M346.5 1325V1500M356.5 1325V1500M367.5 1325V1500M389.5 1325V1500M400.5 1325V1500M411.5 1325V1500M422.5 1325V1500M444.5 1325V1500M455.5 1325V1500M466.5 1325V1500M477.5 1325V1500M499.5 1325V1500M510.5 1325V1500M521.5 1325V1500M531.5 1325V1500M553.5 1325V1500M564.5 1325V1500M575.5 1325V1500M586.5 1325V1500M608.5 1325V1500M619.5 1325V1500M630.5 1325V1500M641.5 1325V1500M663.5 1325V1500M674.5 1325V1500M685.5 1325V1500M696.5 1325V1500M717.5 1325V1500M728.5 1325V1500M739.5 1325V1500M750.5 1325V1500M772.5 1325V1500M783.5 1325V1500M794.5 1325V1500M805.5 1325V1500M827.5 1325V1500M838.5 1325V1500M849.5 1325V1500M860.5 1325V1500M881.5 1325V1500M892.5 1325V1500M903.5 1325V1500M914.5 1325V1500M936.5 1325V1500M947.5 1325V1500M958.5 1325V1500M969.5 1325V1500M991.5 1325V1500M1002.5 1325V1500M1013.5 1325V1500M1024.5 1325V1500M1046.5 1325V1500M1057.5 1325V1500M1067.5 1325V1500M1078.5 1325V1500M1100.5 1325V1500M1111.5 1325V1500M1122.5 1325V1500M1133.5 1325V1500" stroke="#000" stroke-opacity="0.035" stroke-width="1" stroke-dasharray="6,6" stroke-dashoffset="1" fill="none"/>
<path d="M105.5 1325V1500M160.5 1325V1500M214.5 1325V1500M269.5 1325V1500M324.5 1325V1500M378.5 1325V1500M433.5 1325V1500M488.5 1325V1500M542.5 1325V1500M597.5 1325V1500M652.5 1325V1500M706.5 1325V1500M761.5 1325V1500M816.5 1325V1500M871.5 1325V1500M925.5 1325V1500M980.5 1325V1500M1035.5 1325V1500M1089.5 1325V1500M1144.5 1325V1500" stroke="#000" stroke-opacity="0.11" stroke-width="1" stroke-dasharray="4,4" stroke-dashoffset="1" fill="none"/>
<path d="M101 1325.5H1151M101 1360.5H1151M101 1395.5H1151M101 1430.5H1151M101 1465.5H1151M101 1500.5H1151" stroke="#000" stroke-opacity="0.09" stroke-width="1" stroke-dasharray="4,4" stroke-dashoffset="2" fill="none"/>
<clipPath id="cpU"><rect x="0" y="0" width="1200" height="1395"/></clipPath>
<clipPath id="cpD"><rect x="0" y="1395" width="1200" height="300"/></clipPath>
<path d="M105.4 1481.7C107.22 1476.13 112.69 1457.8 116.34 1448.3C119.98 1438.8 123.63 1430.67 127.28 1424.7C130.92 1418.73 134.57 1417.87 138.21 1412.5C141.86 1407.13 145.51 1394.03 149.15 1392.5C152.8 1390.97 156.44 1394.83 160.09 1403.3C163.74 1411.77 167.38 1434.97 171.03 1443.3C174.67 1451.63 178.32 1452.18 181.97 1453.3C185.61 1454.42 189.26 1452.08 192.9 1450C196.55 1447.92 200.2 1445.3 203.84 1440.8C207.49 1436.3 211.13 1426.52 214.78 1423C218.43 1419.48 222.07 1421.73 225.72 1419.7C229.36 1417.67 233.01 1413.53 236.66 1410.8C240.3 1408.07 243.95 1405.65 247.59 1403.3C251.24 1400.95 254.89 1399.33 258.53 1396.7C262.18 1394.07 265.82 1390.9 269.47 1387.5C273.12 1384.1 276.76 1379.27 280.41 1376.3C284.05 1373.33 287.7 1371.8 291.35 1369.7C294.99 1367.6 298.64 1367.12 302.28 1363.7C305.93 1360.28 309.58 1351.2 313.22 1349.2C316.87 1347.2 320.51 1351.07 324.16 1351.7C327.81 1352.33 331.45 1352.58 335.1 1353C338.74 1353.42 342.39 1355.48 346.04 1354.2C349.68 1352.92 353.33 1347.67 356.97 1345.3C360.62 1342.93 364.27 1341.43 367.91 1340C371.56 1338.57 375.2 1338.32 378.85 1336.7C382.5 1335.08 386.14 1330.72 389.79 1330.3C393.43 1329.88 397.08 1333.05 400.73 1334.2C404.37 1335.35 408.02 1336.1 411.66 1337.2C415.31 1338.3 418.96 1340.2 422.6 1340.8C426.25 1341.4 429.89 1340.1 433.54 1340.8C437.19 1341.5 440.83 1342.77 444.48 1345C448.12 1347.23 451.77 1349.53 455.42 1354.2C459.06 1358.87 462.71 1368.42 466.35 1373C470 1377.58 473.65 1379 477.29 1381.7C480.94 1384.4 484.58 1386.98 488.23 1389.2C491.88 1391.42 495.52 1394.45 499.17 1395C502.81 1395.55 506.46 1393 510.11 1392.5C513.75 1392 517.4 1391.92 521.04 1392C524.69 1392.08 528.34 1392.28 531.98 1393C535.63 1393.72 539.27 1395.35 542.92 1396.3C546.57 1397.25 550.21 1396.7 553.86 1398.7C557.5 1400.7 561.15 1405.63 564.8 1408.3C568.44 1410.97 572.09 1414.42 575.73 1414.7C579.38 1414.98 583.03 1412.58 586.67 1410C590.32 1407.42 593.96 1402.12 597.61 1399.2C601.26 1396.28 604.9 1394.58 608.55 1392.5C612.19 1390.42 615.84 1388.08 619.49 1386.7C623.13 1385.32 626.78 1384.2 630.42 1384.2C634.07 1384.2 637.72 1386.37 641.36 1386.7C645.01 1387.03 648.65 1386.43 652.3 1386.2C655.95 1385.97 659.59 1385.63 663.24 1385.3C666.88 1384.97 670.53 1384.25 674.18 1384.2C677.82 1384.15 681.47 1385 685.11 1385C688.76 1385 692.41 1385.08 696.05 1384.2C699.7 1383.32 703.34 1380.9 706.99 1379.7C710.64 1378.5 714.28 1377.08 717.93 1377C721.57 1376.92 725.22 1378.2 728.87 1379.2C732.51 1380.2 736.16 1383 739.8 1383C743.45 1383 747.1 1378.92 750.74 1379.2C754.39 1379.48 758.03 1383.03 761.68 1384.7C765.33 1386.37 768.97 1387.48 772.62 1389.2C776.26 1390.92 779.91 1393.62 783.56 1395C787.2 1396.38 790.85 1395.78 794.49 1397.5C798.14 1399.22 801.79 1403.63 805.43 1405.3C809.08 1406.97 812.72 1407.97 816.37 1407.5C820.02 1407.03 823.66 1403.75 827.31 1402.5C830.95 1401.25 834.6 1401.25 838.25 1400C841.89 1398.75 845.54 1396.12 849.18 1395C852.83 1393.88 856.48 1393.17 860.12 1393.3C863.77 1393.43 867.41 1394.13 871.06 1395.8C874.71 1397.47 878.35 1402.73 882 1403.3C885.64 1403.87 889.29 1400.53 892.94 1399.2C896.58 1397.87 900.23 1394.62 903.87 1395.3C907.52 1395.98 911.17 1398.57 914.81 1403.3C918.46 1408.03 922.1 1419.95 925.75 1423.7C929.4 1427.45 933.04 1423.92 936.69 1425.8C940.33 1427.68 943.98 1431.93 947.63 1435C951.27 1438.07 954.92 1441.75 958.56 1444.2C962.21 1446.65 965.86 1448.4 969.5 1449.7C973.15 1451 976.79 1450.62 980.44 1452C984.09 1453.38 987.73 1456.95 991.38 1458C995.02 1459.05 998.67 1458.47 1002.32 1458.3C1005.96 1458.13 1009.61 1457.83 1013.25 1457C1016.9 1456.17 1020.55 1457.67 1024.19 1453.3C1027.84 1448.93 1031.48 1438.68 1035.13 1430.8C1038.78 1422.92 1042.42 1414.52 1046.07 1406C1049.71 1397.48 1053.36 1387.28 1057.01 1379.7C1060.65 1372.12 1064.3 1364.87 1067.94 1360.5C1071.59 1356.13 1075.24 1354.87 1078.88 1353.5C1082.53 1352.13 1086.17 1352.07 1089.82 1352.3C1093.47 1352.53 1097.11 1353.65 1100.76 1354.9C1104.4 1356.15 1108.05 1357.45 1111.7 1359.8C1115.34 1362.15 1118.99 1362.85 1122.63 1369C1126.28 1375.15 1129.93 1390.2 1133.57 1396.7C1137.22 1403.2 1142.69 1406.12 1144.51 1408L1144.51 1395L105.4 1395Z" fill="#96fa96" clip-path="url(#cpU)" shape-rendering="crispEdges"/>
<path d="M105.4 1481.7C107.22 1476.13 112.69 1457.8 116.34 1448.3C119.98 1438.8 123.63 1430.67 127.28 1424.7C130.92 1418.73 134.57 1417.87 138.21 1412.5C141.86 1407.13 145.51 1394.03 149.15 1392.5C152.8 1390.97 156.44 1394.83 160.09 1403.3C163.74 1411.77 167.38 1434.97 171.03 1443.3C174.67 1451.63 178.32 1452.18 181.97 1453.3C185.61 1454.42 189.26 1452.08 192.9 1450C196.55 1447.92 200.2 1445.3 203.84 1440.8C207.49 1436.3 211.13 1426.52 214.78 1423C218.43 1419.48 222.07 1421.73 225.72 1419.7C229.36 1417.67 233.01 1413.53 236.66 1410.8C240.3 1408.07 243.95 1405.65 247.59 1403.3C251.24 1400.95 254.89 1399.33 258.53 1396.7C262.18 1394.07 265.82 1390.9 269.47 1387.5C273.12 1384.1 276.76 1379.27 280.41 1376.3C284.05 1373.33 287.7 1371.8 291.35 1369.7C294.99 1367.6 298.64 1367.12 302.28 1363.7C305.93 1360.28 309.58 1351.2 313.22 1349.2C316.87 1347.2 320.51 1351.07 324.16 1351.7C327.81 1352.33 331.45 1352.58 335.1 1353C338.74 1353.42 342.39 1355.48 346.04 1354.2C349.68 1352.92 353.33 1347.67 356.97 1345.3C360.62 1342.93 364.27 1341.43 367.91 1340C371.56 1338.57 375.2 1338.32 378.85 1336.7C382.5 1335.08 386.14 1330.72 389.79 1330.3C393.43 1329.88 397.08 1333.05 400.73 1334.2C404.37 1335.35 408.02 1336.1 411.66 1337.2C415.31 1338.3 418.96 1340.2 422.6 1340.8C426.25 1341.4 429.89 1340.1 433.54 1340.8C437.19 1341.5 440.83 1342.77 444.48 1345C448.12 1347.23 451.77 1349.53 455.42 1354.2C459.06 1358.87 462.71 1368.42 466.35 1373C470 1377.58 473.65 1379 477.29 1381.7C480.94 1384.4 484.58 1386.98 488.23 1389.2C491.88 1391.42 495.52 1394.45 499.17 1395C502.81 1395.55 506.46 1393 510.11 1392.5C513.75 1392 517.4 1391.92 521.04 1392C524.69 1392.08 528.34 1392.28 531.98 1393C535.63 1393.72 539.27 1395.35 542.92 1396.3C546.57 1397.25 550.21 1396.7 553.86 1398.7C557.5 1400.7 561.15 1405.63 564.8 1408.3C568.44 1410.97 572.09 1414.42 575.73 1414.7C579.38 1414.98 583.03 1412.58 586.67 1410C590.32 1407.42 593.96 1402.12 597.61 1399.2C601.26 1396.28 604.9 1394.58 608.55 1392.5C612.19 1390.42 615.84 1388.08 619.49 1386.7C623.13 1385.32 626.78 1384.2 630.42 1384.2C634.07 1384.2 637.72 1386.37 641.36 1386.7C645.01 1387.03 648.65 1386.43 652.3 1386.2C655.95 1385.97 659.59 1385.63 663.24 1385.3C666.88 1384.97 670.53 1384.25 674.18 1384.2C677.82 1384.15 681.47 1385 685.11 1385C688.76 1385 692.41 1385.08 696.05 1384.2C699.7 1383.32 703.34 1380.9 706.99 1379.7C710.64 1378.5 714.28 1377.08 717.93 1377C721.57 1376.92 725.22 1378.2 728.87 1379.2C732.51 1380.2 736.16 1383 739.8 1383C743.45 1383 747.1 1378.92 750.74 1379.2C754.39 1379.48 758.03 1383.03 761.68 1384.7C765.33 1386.37 768.97 1387.48 772.62 1389.2C776.26 1390.92 779.91 1393.62 783.56 1395C787.2 1396.38 790.85 1395.78 794.49 1397.5C798.14 1399.22 801.79 1403.63 805.43 1405.3C809.08 1406.97 812.72 1407.97 816.37 1407.5C820.02 1407.03 823.66 1403.75 827.31 1402.5C830.95 1401.25 834.6 1401.25 838.25 1400C841.89 1398.75 845.54 1396.12 849.18 1395C852.83 1393.88 856.48 1393.17 860.12 1393.3C863.77 1393.43 867.41 1394.13 871.06 1395.8C874.71 1397.47 878.35 1402.73 882 1403.3C885.64 1403.87 889.29 1400.53 892.94 1399.2C896.58 1397.87 900.23 1394.62 903.87 1395.3C907.52 1395.98 911.17 1398.57 914.81 1403.3C918.46 1408.03 922.1 1419.95 925.75 1423.7C929.4 1427.45 933.04 1423.92 936.69 1425.8C940.33 1427.68 943.98 1431.93 947.63 1435C951.27 1438.07 954.92 1441.75 958.56 1444.2C962.21 1446.65 965.86 1448.4 969.5 1449.7C973.15 1451 976.79 1450.62 980.44 1452C984.09 1453.38 987.73 1456.95 991.38 1458C995.02 1459.05 998.67 1458.47 1002.32 1458.3C1005.96 1458.13 1009.61 1457.83 1013.25 1457C1016.9 1456.17 1020.55 1457.67 1024.19 1453.3C1027.84 1448.93 1031.48 1438.68 1035.13 1430.8C1038.78 1422.92 1042.42 1414.52 1046.07 1406C1049.71 1397.48 1053.36 1387.28 1057.01 1379.7C1060.65 1372.12 1064.3 1364.87 1067.94 1360.5C1071.59 1356.13 1075.24 1354.87 1078.88 1353.5C1082.53 1352.13 1086.17 1352.07 1089.82 1352.3C1093.47 1352.53 1097.11 1353.65 1100.76 1354.9C1104.4 1356.15 1108.05 1357.45 1111.7 1359.8C1115.34 1362.15 1118.99 1362.85 1122.63 1369C1126.28 1375.15 1129.93 1390.2 1133.57 1396.7C1137.22 1403.2 1142.69 1406.12 1144.51 1408L1144.51 1395L105.4 1395Z" fill="#ff9696" clip-path="url(#cpD)" shape-rendering="crispEdges"/>
<path d="M105 1395.5H1144" stroke="#90f890" stroke-width="1" fill="none"/>
<path d="M100.5 1318V1500.5" stroke="#333" stroke-width="1" fill="none"/>
<polygon points="96.8,1319.4 104.2,1319.4 100.5,1312.8" fill="#000"/>
<path d="M100 1500.5H1157" stroke="#222" stroke-width="1" fill="none"/>
<polygon points="1155,1496.7 1155,1504.3 1161.5,1500.5" fill="#000"/>
<path d="M98 1325.5H103M98 1360.5H103M98 1395.5H103M98 1430.5H103M98 1465.5H103M98 1500.5H103" stroke="#222" stroke-width="1"/>
<path d="M98 1342.5H100M98 1377.5H100M98 1412.5H100M98 1447.5H100M98 1482.5H100" stroke="#f00" stroke-width="1"/>
<path d="M105.5 1498V1503.5M160.5 1498V1503.5M214.5 1498V1503.5M269.5 1498V1503.5M324.5 1498V1503.5M378.5 1498V1503.5M433.5 1498V1503.5M488.5 1498V1503.5M542.5 1498V1503.5M597.5 1498V1503.5M652.5 1498V1503.5M706.5 1498V1503.5M761.5 1498V1503.5M816.5 1498V1503.5M871.5 1498V1503.5M925.5 1498V1503.5M980.5 1498V1503.5M1035.5 1498V1503.5M1089.5 1498V1503.5M1144.5 1498V1503.5" stroke="#000" stroke-width="1"/>
<path d="M116.5 1501V1503M127.5 1501V1503M138.5 1501V1503M149.5 1501V1503M171.5 1501V1503M181.5 1501V1503M192.5 1501V1503M203.5 1501V1503M225.5 1501V1503M236.5 1501V1503M247.5 1501V1503M258.5 1501V1503M280.5 1501V1503M291.5 1501V1503M302.5 1501V1503M313.5 1501V1503M335.5 1501V1503M346.5 1501V1503M356.5 1501V1503M367.5 1501V1503M389.5 1501V1503M400.5 1501V1503M411.5 1501V1503M422.5 1501V1503M444.5 1501V1503M455.5 1501V1503M466.5 1501V1503M477.5 1501V1503M499.5 1501V1503M510.5 1501V1503M521.5 1501V1503M531.5 1501V1503M553.5 1501V1503M564.5 1501V1503M575.5 1501V1503M586.5 1501V1503M608.5 1501V1503M619.5 1501V1503M630.5 1501V1503M641.5 1501V1503M663.5 1501V1503M674.5 1501V1503M685.5 1501V1503M696.5 1501V1503M717.5 1501V1503M728.5 1501V1503M739.5 1501V1503M750.5 1501V1503M772.5 1501V1503M783.5 1501V1503M794.5 1501V1503M805.5 1501V1503M827.5 1501V1503M838.5 1501V1503M849.5 1501V1503M860.5 1501V1503M881.5 1501V1503M892.5 1501V1503M903.5 1501V1503M914.5 1501V1503M936.5 1501V1503M947.5 1501V1503M958.5 1501V1503M969.5 1501V1503M991.5 1501V1503M1002.5 1501V1503M1013.5 1501V1503M1024.5 1501V1503M1046.5 1501V1503M1057.5 1501V1503M1067.5 1501V1503M1078.5 1501V1503M1100.5 1501V1503M1111.5 1501V1503M1122.5 1501V1503M1133.5 1501V1503" stroke="#aaa" stroke-width="1"/>
<text x="74.25" y="1330" class="s">0.10</text>
<text x="74.45" y="1365" class="s">0.05</text>
<text x="74.25" y="1400" class="s">0.00</text>
<text x="70.5" y="1435" class="s">-0.05</text>
<text x="70.3" y="1470" class="s">-0.10</text>
<text x="70.5" y="1505" class="s">-0.15</text>
<text x="86.1" y="1514" class="s" textLength="41.14" lengthAdjust="spacingAndGlyphs">17 Juin</text>
<text x="141.7" y="1514" class="s" textLength="40.74" lengthAdjust="spacingAndGlyphs">24 Juin</text>
<text x="195.5" y="1514" class="s" textLength="41.81" lengthAdjust="spacingAndGlyphs">1er Juil</text>
<text x="256.95" y="1514" class="s" textLength="29.27" lengthAdjust="spacingAndGlyphs">8 Juil</text>
<text x="307.1" y="1514" class="s" textLength="37.42" lengthAdjust="spacingAndGlyphs">15 Juil</text>
<text x="362" y="1514" class="s" textLength="36.82" lengthAdjust="spacingAndGlyphs">22 Juil</text>
<text x="417" y="1514" class="s" textLength="36.62" lengthAdjust="spacingAndGlyphs">29 Juil</text>
<text x="470.65" y="1514" class="s" textLength="37.79" lengthAdjust="spacingAndGlyphs">5 Août</text>
<text x="521.2" y="1514" class="s" textLength="45.04" lengthAdjust="spacingAndGlyphs">12 Août</text>
<text x="575.8" y="1514" class="s" textLength="45.44" lengthAdjust="spacingAndGlyphs">19 Août</text>
<text x="630.8" y="1514" class="s" textLength="44.54" lengthAdjust="spacingAndGlyphs">26 Août</text>
<text x="689.7" y="1513" class="s" textLength="37.74" lengthAdjust="spacingAndGlyphs">2 Sept</text>
<text x="743.9" y="1513" class="s" textLength="37.64" lengthAdjust="spacingAndGlyphs">9 Sept</text>
<text x="794.3" y="1513" class="s" textLength="44.94" lengthAdjust="spacingAndGlyphs">16 Sept</text>
<text x="850.1" y="1513" class="s" textLength="44.14" lengthAdjust="spacingAndGlyphs">23 Sept</text>
<text x="904.45" y="1513" class="s" textLength="45.09" lengthAdjust="spacingAndGlyphs">30 Sept</text>
<text x="965.6" y="1513" class="s" textLength="30.46" lengthAdjust="spacingAndGlyphs">7 Oct</text>
<text x="1017.1" y="1513" class="s" textLength="37.86" lengthAdjust="spacingAndGlyphs">14 Oct</text>
<text x="1071.8" y="1513" class="s" textLength="37.26" lengthAdjust="spacingAndGlyphs">21 Oct</text>
<text x="1126.8" y="1513" class="s" textLength="37.06" lengthAdjust="spacingAndGlyphs">28 Oct</text>
<text x="502.65" y="1526.8" class="s" textLength="248.47" lengthAdjust="spacingAndGlyphs">Date (du 17 Juin 2016 au 28 Octobre 2016)</text>
<text x="111" y="1295.3" class="t" textLength="938.5" lengthAdjust="spacing">Altran Technologies: graphique du MACD - MACD(12,26,9) - AnalyBourse.com</text>
<text transform="translate(67,1428.05) rotate(-90)" class="s" textLength="34.67" lengthAdjust="spacingAndGlyphs">MACD</text>
<rect x="551" y="51" width="6" height="6" fill="#ccc"/>
<rect x="550" y="50" width="6" height="6" fill="#d26464"/>
<text x="560" y="55.7" class="s" textLength="55.98" lengthAdjust="spacingAndGlyphs">Support 1</text>
<rect x="620.2" y="51" width="6" height="6" fill="#ccc"/>
<rect x="619.2" y="50" width="6" height="6" fill="#b45f5f"/>
<text x="629" y="55.7" class="s" textLength="56.38" lengthAdjust="spacingAndGlyphs">Support 2</text>
<rect x="689" y="51" width="6" height="6" fill="#ccc"/>
<rect x="688" y="50" width="6" height="6" fill="#a06464"/>
<text x="698" y="55.7" class="s" textLength="56.18" lengthAdjust="spacingAndGlyphs">Support 3</text>
<rect x="758.3" y="51" width="6" height="6" fill="#ccc"/>
<rect x="757.3" y="50" width="6" height="6" fill="#64dc64"/>
<text x="766.15" y="57.5" class="s" textLength="72.97" lengthAdjust="spacingAndGlyphs">Résistance 1</text>
<rect x="843" y="51" width="6" height="6" fill="#ccc"/>
<rect x="842" y="50" width="6" height="6" fill="#5abe5a"/>
<text x="850.95" y="57.5" class="s" textLength="73.37" lengthAdjust="spacingAndGlyphs">Résistance 2</text>
<rect x="928.5" y="51" width="6" height="6" fill="#ccc"/>
<rect x="927.5" y="50" width="6" height="6" fill="#5a9b5a"/>
<text x="936.25" y="57.5" class="s" textLength="73.17" lengthAdjust="spacingAndGlyphs">Résistance 3</text>
<rect x="1013.8" y="51" width="6" height="6" fill="#ccc"/>
<rect x="1012.8" y="50" width="6" height="6" fill="#6464ff"/>
<text x="1021.65" y="55.7" class="s" textLength="32.38" lengthAdjust="spacingAndGlyphs">MM20</text>
<rect x="1059" y="51" width="6" height="6" fill="#ccc"/>
<rect x="1058" y="50" width="6" height="6" fill="#b464f0"/>
<text x="1066.45" y="55.7" class="s" textLength="32.38" lengthAdjust="spacingAndGlyphs">MM50</text>
<rect x="1104.5" y="51" width="6" height="6" fill="#ccc"/>
<rect x="1103.5" y="50" width="6" height="6" fill="#f064f0"/>
<text x="1111.75" y="55.7" class="s" textLength="38.88" lengthAdjust="spacingAndGlyphs">MM100</text>
</svg></body></html>
